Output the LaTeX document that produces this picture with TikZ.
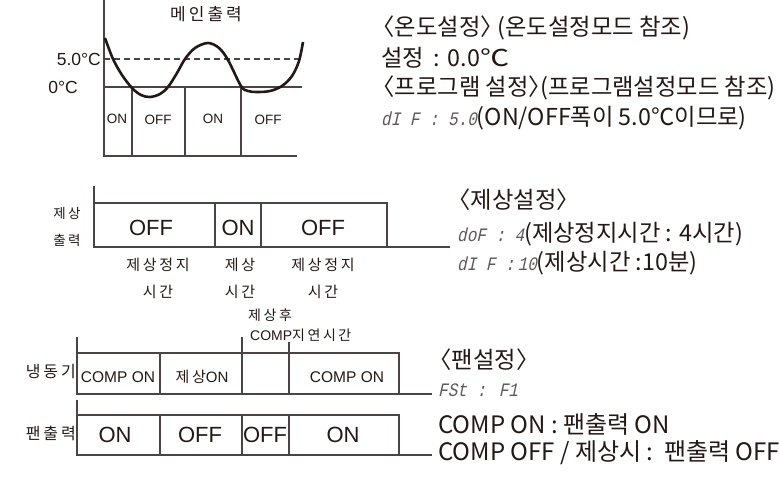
\documentclass[tikz,border=0pt]{standalone}
\usepackage{fontspec}
\setmainfont{Noto Sans CJK KR}
\newfontfamily\lat{Liberation Sans}
\newfontfamily\krs{Noto Sans CJK KR}[LetterSpace=18]
\newfontfamily\seg{Liberation Mono}[FakeSlant=0.22, FakeStretch=0.84]
\definecolor{ink}{HTML}{231815}
\definecolor{ln}{HTML}{4A4444}
\definecolor{segc}{HTML}{5E5858}
\newcommand\SG[1]{{\color{segc}\seg\fontsize{19}{20}\selectfont #1}}
\newcommand\lbk{\makebox[0.5em][r]{〈}}
\newcommand\rbk{\makebox[0.5em][l]{〉}}
\begin{document}
\begin{tikzpicture}[x=1pt,y=-1pt]
\useasboundingbox (0,0) rectangle (779,484);
\tikzset{
  ax/.style={draw=ln, line width=1.3pt},
  lbl/.style={inner sep=0, text=ink},
  rt/.style={anchor=west, inner sep=0, text=ink, font=\fontsize{23.3}{28}\selectfont},
  big/.style={lbl, font=\lat\fontsize{22}{24}\selectfont},
  small/.style={lbl, font=\lat\fontsize{13.5}{16}\selectfont},
  kd/.style={lbl, font=\krs\fontsize{15}{18}\selectfont},
}
% ---------- top diagram ----------
\draw[ax] (104,0) -- (104,156) -- (297,156);
\draw[ax] (104,87) -- (302,87);
\draw[ax, dash pattern=on 6pt off 4pt] (104,59) -- (302,59);
\foreach \x in {132,185,241} \draw[ax] (\x,87) -- (\x,156);
\draw[line width=2.6pt, ink] plot[smooth, tension=0.55] coordinates {
 (105,38) (113,59) (122,75) (132,88) (141,95) (150,97) (160,94) (168,87)
 (177,73) (185,59) (195,48) (208,43) (219,48) (228,60) (241,86) (248,91)
 (257,92) (270,91) (282,86) (292,76) (299,61) (303,42)};
\node[kd, font=\krs\fontsize{17}{20}\selectfont] (main) at (206,14) {메인출력};
\node[lbl, font=\lat\fontsize{17.5}{20}\selectfont, anchor=east] (t5) at (101,59) {5.0°C};
\node[lbl, font=\lat\fontsize{17.5}{20}\selectfont] (t0) at (63,87) {0°C};
\node[small] (a1) at (117,119) {ON};
\node[small] (a2) at (158,120) {OFF};
\node[small] (a3) at (213,119) {ON};
\node[small] (a4) at (268,120) {OFF};
% ---------- top right text ----------
\node[rt] (r1) at (383,28) {\lbk 온도설정\rbk{} (온도설정모드 참조)};
\node[rt] (r2) at (381,58) {설정\hspace{0.42em}:\hspace{0.32em}0.0\scalebox{1.25}[1]{℃}};
\node[rt] (r3) at (383,88) {\lbk 프로그램 설정\rbk(프로그램설정모드 참조)};
\node[rt] (r4) at (381,118) {\SG{dI F : 5.0}(ON/OFF폭이 5.0℃이므로)};
% ---------- defrost diagram ----------
\draw[ax] (94,186) -- (94,247) -- (387,247);
\draw[ax] (94,203) -- (387,203) -- (387,247);
\foreach \x in {215,261} \draw[ax] (\x,203) -- (\x,247);
\node[big] (d1) at (151,228) {OFF};
\node[big] (d2) at (238,228) {ON};
\node[big] (d3) at (323,228) {OFF};
\node[kd, font=\krs\fontsize{13.5}{16}\selectfont] (dl1) at (67,213) {제상};
\node[kd, font=\krs\fontsize{13.5}{16}\selectfont] (dl2) at (67,240) {출력};
\node[kd] (b1) at (158,265) {제상정지};
\node[kd] (b2) at (158,292) {시간};
\node[kd] (b3) at (240,265) {제상};
\node[kd] (b4) at (240,292) {시간};
\node[kd] (b5) at (323,265) {제상정지};
\node[kd] (b6) at (323,292) {시간};
\node[rt] (m1) at (459,200) {\lbk 제상설정\rbk};
\node[rt] (m2) at (457,234) {\SG{doF : 4}(제상정지시간 : 4시간)};
\node[rt] (m3) at (457,263) {\SG{dI F :\,10}(제상시간 :10분)};
\coordinate (mc) at (450,247);
\draw[ax] (387,247) -- (mc);
% ---------- compressor / fan ----------
\draw[ax] (77,337) -- (77,394) -- (399,394);
\draw[ax] (77,353) -- (399,353) -- (399,394);
\draw[ax] (160,353) -- (160,394);
\draw[ax] (242,337) -- (242,394);
\draw[ax] (289,342) -- (289,394);
\draw[ax] (77,400) -- (77,455) -- (399,455);
\draw[ax] (77,415) -- (399,415) -- (399,455);
\foreach \x in {160,242,289} \draw[ax] (\x,415) -- (\x,455);
\node[kd, font=\krs\fontsize{16}{18}\selectfont, anchor=east] (c0) at (76,372) {냉동기};
\node[kd, font=\krs\fontsize{16}{18}\selectfont, anchor=east] (f0) at (76,433) {팬출력};
\node[lbl, font=\lat\fontsize{15.5}{18}\selectfont] (c1) at (118,377) {COMP ON};
\node[lbl, font=\krs\fontsize{15}{18}\selectfont] (c2) at (202,377) {제상\lat ON};
\node[lbl, font=\lat\fontsize{15.5}{18}\selectfont] (c3) at (347,377) {COMP ON};
\node[kd, font=\krs\fontsize{14}{16}\selectfont, anchor=west] (n1) at (248,315) {제상후};
\node[kd, font=\krs\fontsize{14}{16}\selectfont, anchor=west] (n2) at (250,335) {\lat COMP\krs 지연시간};
\node[big] (f1) at (115,435) {ON};
\node[big] (f2) at (200,435) {OFF};
\node[big] (f3) at (265,435) {OFF};
\node[big] (f4) at (343,435) {ON};
\node[rt] (p1) at (440,360) {\lbk 팬설정\rbk};
\node[rt] (p2) at (438,390) {\SG{FSt : F1}};
\node[rt, font=\fontsize{24}{28}\selectfont] (p3) at (438,424) {COMP ON : 팬출력 ON};
\node[rt, font=\fontsize{24}{28}\selectfont] (p4) at (438,453) {COMP OFF / 제상시 :\ \ 팬출력 OFF};
\coordinate (cc) at (432,394);
\coordinate (fc) at (432,455);
\draw[ax] (399,394) -- (cc);
\draw[ax] (399,455) -- (fc);
\end{tikzpicture}
\end{document}
